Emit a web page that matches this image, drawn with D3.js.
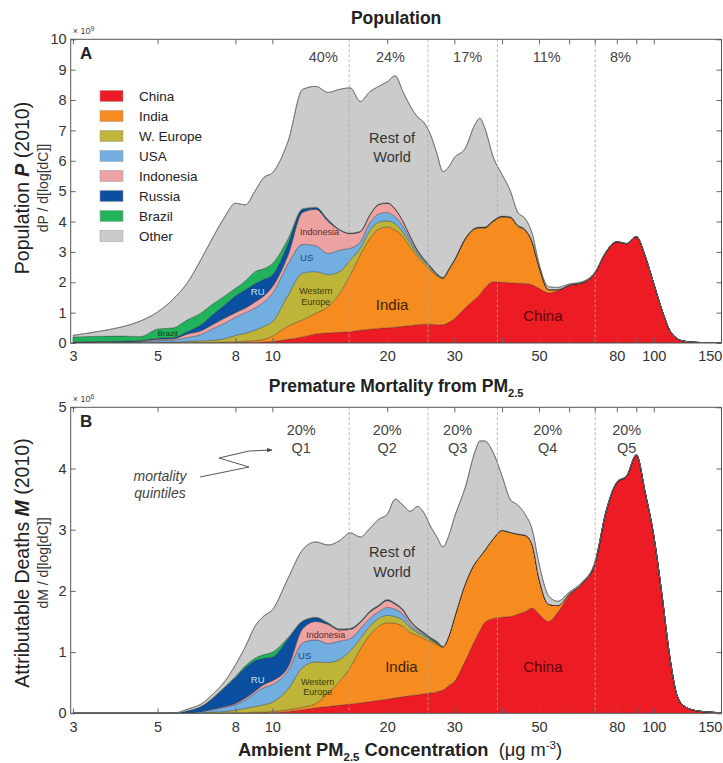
<!DOCTYPE html>
<html>
<head>
<meta charset="utf-8">
<script src="https://cdn.jsdelivr.net/npm/d3@7"></script>
<style>
  body { margin: 0; background: #fff; }
  svg { font-family: "Liberation Sans", Arial, Helvetica, sans-serif; }
</style>
</head>
<body>
<svg id="chart"></svg>
<script>
// PM2.5 exposure: population and attributable deaths by concentration

const conc = [3, 3.5, 4, 4.5, 5, 5.5, 6, 6.5, 7, 7.5, 8, 8.5, 9, 9.5, 10,
  11, 12, 13, 14, 15, 16, 17, 18, 19, 20, 21, 22, 23, 24, 25, 26, 27, 28, 29, 30,
  32, 34, 35, 36, 38, 40, 42, 44, 46, 48, 50,
  53, 56, 60, 65, 70, 75, 80, 85, 90, 95, 100, 105, 110, 115, 120, 130, 150];

// population, 10^9 per d(log C)
const popChina = [0,0,0,0,0,0,0,0, 0.01,0.01,0.01,0.02,0.02,0.03,0.05,
  0.12,0.2,0.3,0.33,0.35,0.37,0.42,0.45,0.48,0.5,0.52,0.55,0.57,0.6,0.62,0.62,0.6,0.6,0.68,0.8,
  1.15,1.45,1.6,1.8,2.02,2.0,1.98,1.97,1.96,1.92,1.8,
  1.65,1.72,1.88,1.97,2.28,3.0,3.33,3.27,3.5,2.85,1.95,1.1,0.43,0.15,0.06,0.02,0];
const popIndia = [0,0,0,0,0.01,0.01,0.01,0.01,0.01,0.02,0.03,0.04,0.06,0.09,0.18,
  0.44,0.56,0.68,0.87,1.28,1.87,2.48,2.99,3.27,3.32,3.2,2.95,2.58,2.25,1.98,1.78,1.6,1.52,1.72,1.9,
  2.25,2.3,2.18,1.98,1.98,2.14,2.14,1.87,1.74,1.38,0.7,
  0.1,0.03,0.02,0.01,0.01,0,0,0,0,0,0,0,0,0,0,0,0];
const popWEurope = [0.01,0.01,0.01,0.01,0.01,0.02,0.04,0.06,0.07,0.11,0.21,0.26,0.34,0.43,0.47,
  1.02,1.54,1.37,1.05,0.72,0.49,0.22,0.26,0.23,0.2,0.2,0.15,0.13,0.08,0.07,0.05,0.03,0.02,0.02,0.02,
  0.02,0.02,0.02,0.02,0.02,0.02,0.02,0.02,0.02,0.02,0.02,
  0.01,0.01,0.01,0.01,0.01,0,0,0,0,0,0,0,0,0,0,0,0];
const popUSA = [0.01,0.01,0.02,0.03,0.06,0.07,0.13,0.21,0.39,0.51,0.6,0.68,0.73,0.8,0.93,
  1.04,0.95,0.85,0.7,0.71,0.39,0.21,0.25,0.27,0.28,0.23,0.2,0.12,0.07,0.05,0.03,0.02,0.01,0.01,0.01,
  0.01,0.01,0.01,0.01,0.01,0.01,0.01,0.01,0.01,0.01,0.01,
  0,0,0,0,0,0,0,0,0,0,0,0,0,0,0,0,0];
const popIndonesia = [0,0.01,0.01,0.02,0.04,0.04,0.12,0.12,0.14,0.17,0.15,0.15,0.2,0.2,0.22,
  0.28,1.05,1.2,1.05,0.66,0.48,0.33,0.25,0.3,0.3,0.25,0.15,0.1,0.05,0.03,0.02,0.02,0.01,0.01,0.01,
  0.01,0.01,0.01,0.01,0.01,0.01,0.01,0.01,0.01,0.01,0.01,
  0,0,0,0,0,0,0,0,0,0,0,0,0,0,0,0,0];
const popRussia = [0.02,0.02,0.02,0.02,0.04,0.04,0.08,0.2,0.33,0.43,0.55,0.6,0.6,0.55,0.39,
  0.38,0.1,0.05,0.05,0.01,0.01,0.01,0.01,0.01,0.01,0.01,0.01,0.01,0.01,0.01,0.01,0.01,0,0,0,
  0,0,0,0,0,0,0,0,0,0,0,
  0,0,0,0,0,0,0,0,0,0,0,0,0,0,0,0,0];
const popBrazil = [0.16,0.17,0.17,0.13,0.3,0.32,0.39,0.39,0.35,0.3,0.25,0.3,0.4,0.35,0.38,
  0.16,0.02,0.02,0.02,0.01,0.01,0.01,0.01,0.01,0.01,0.01,0.01,0.01,0.01,0.01,0.01,0.01,0,0,0,
  0,0,0,0,0,0,0,0,0,0,0,
  0,0,0,0,0,0,0,0,0,0,0,0,0,0,0,0,0];
const popOther = [0.05,0.16,0.29,0.51,0.56,0.95,1.23,1.76,2.2,2.6,2.8,2.5,2.65,3.0,2.98,
  3.21,3.93,3.98,4.18,4.61,4.78,4.27,4.05,3.88,3.98,4.38,4.25,4.28,4.38,4.48,4.33,3.95,3.48,3.36,3.36,
  2.96,3.41,3.58,3.28,2.06,1.37,0.87,0.42,0.36,0.26,0.08,
  0.09,0.07,0.03,0.03,0.02,0.01,0.01,0.01,0.01,0.01,0,0,0,0,0,0,0];

// attributable deaths, 10^6 per d(log C)
const mortChina = [0,0,0,0,0,0,0,0,0,0,0,0,0,0.01,0.01,
  0.03,0.06,0.09,0.11,0.13,0.15,0.17,0.19,0.21,0.23,0.25,0.27,0.29,0.3,0.32,0.33,0.35,0.38,0.45,0.52,
  0.85,1.2,1.35,1.48,1.55,1.57,1.58,1.62,1.66,1.72,1.62,
  1.5,1.65,1.92,2.12,2.42,3.3,3.77,3.88,4.22,3.6,2.9,1.95,0.95,0.3,0.12,0.04,0.01];
const mortIndia = [0,0,0,0,0,0,0,0,0,0.01,0.01,0.01,0.02,0.01,0.02,
  0.03,0.04,0.07,0.22,0.39,0.6,0.88,1.09,1.21,1.25,1.22,1.15,1.03,0.97,0.9,0.84,0.77,0.7,0.8,1.03,
  1.25,1.25,1.2,1.17,1.3,1.41,1.37,1.3,1.24,1.03,0.58,
  0.28,0.11,0.03,0.01,0.02,0,0,0,0,0,0,0,0,0,0,0,0];
const mortWEurope = [0,0,0,0,0,0,0,0.01,0.02,0.02,0.04,0.07,0.09,0.12,0.15,
  0.34,0.65,0.68,0.5,0.36,0.27,0.17,0.14,0.13,0.12,0.11,0.1,0.08,0.05,0.04,0.03,0.02,0.01,0.01,0.01,
  0.01,0.01,0.01,0.01,0.01,0.01,0.01,0.01,0.01,0.01,0.01,
  0,0,0,0,0,0,0,0,0,0,0,0,0,0,0,0,0];
const mortUSA = [0,0,0,0,0,0,0.01,0.02,0.04,0.07,0.09,0.14,0.22,0.28,0.29,
  0.3,0.4,0.36,0.31,0.3,0.2,0.16,0.13,0.11,0.13,0.12,0.1,0.05,0.03,0.02,0.01,0.01,0,0,0,
  0,0,0,0,0,0,0,0,0,0,0,
  0,0,0,0,0,0,0,0,0,0,0,0,0,0,0,0,0];
const mortIndonesia = [0,0,0,0,0,0,0,0,0.01,0.01,0.02,0.03,0.03,0.05,0.06,
  0.06,0.23,0.3,0.31,0.18,0.15,0.1,0.1,0.09,0.11,0.08,0.06,0.05,0.03,0.02,0.01,0.01,0,0,0,
  0,0,0,0,0,0,0,0,0,0,0,
  0,0,0,0,0,0,0,0,0,0,0,0,0,0,0,0,0];
const mortRussia = [0,0,0,0,0,0,0.03,0.08,0.18,0.31,0.42,0.5,0.5,0.43,0.39,
  0.46,0.12,0.06,0.02,0.01,0.01,0.01,0.01,0.01,0.01,0.01,0.01,0.01,0.01,0.01,0.01,0.01,0,0,0,
  0,0,0,0,0,0,0,0,0,0,0,
  0,0,0,0,0,0,0,0,0,0,0,0,0,0,0,0,0];
const mortBrazil = [0,0,0,0,0,0,0,0,0.01,0.01,0.02,0.03,0.04,0.06,0.08,
  0.02,0.01,0.01,0.01,0.01,0.01,0.01,0.01,0.01,0.01,0.01,0.01,0.01,0.01,0.01,0.01,0.01,0,0,0,
  0,0,0,0,0,0,0,0,0,0,0,
  0,0,0,0,0,0,0,0,0,0,0,0,0,0,0,0,0];
const mortOther = [0,0,0,0,0,0,0.03,0.04,0.06,0.09,0.19,0.31,0.52,0.63,0.69,
  0.97,1.16,1.23,1.27,1.44,1.56,1.38,1.35,1.4,1.39,1.7,1.7,1.78,1.98,1.95,1.81,1.7,1.63,1.64,1.64,
  1.57,1.82,1.89,1.79,1.39,0.89,0.54,0.47,0.34,0.24,0.24,
  0.14,0.07,0.03,0.02,0.02,0.01,0.01,0.01,0.01,0,0,0,0,0,0,0,0];

const keys = ["China", "India", "W. Europe", "USA", "Indonesia", "Russia", "Brazil", "Other"];
const colors = ["#ed1c24", "#f68b1f", "#bfb43a", "#72aee0", "#eea3a3", "#0b4fa0", "#21b35b", "#cbcbcb"];

const quintileBounds = [15.9, 25.6, 38.9, 70.2];
const popShares = ["40%", "24%", "17%", "11%", "8%"];
const popShareAt = [13.6, 20.4, 32.5, 52.4, 81.8];
const mortShares = ["20%", "20%", "20%", "20%", "20%"];
const mortQuintiles = ["Q1", "Q2", "Q3", "Q4", "Q5"];
const mortShareAt = [11.9, 20.0, 30.6, 52.7, 84.9];

const xTickValues = [3, 5, 8, 10, 20, 30, 40, 50, 60, 70, 80, 90, 100, 150];
const xTickLabels = [3, 5, 8, 10, 20, 30, 50, 80, 100, 150];

function makeRows(series) {
  return conc.map((c, i) => {
    const r = { conc: c };
    keys.forEach((k, j) => r[k] = series[j][i]);
    return r;
  });
}
const popRows = makeRows([popChina, popIndia, popWEurope, popUSA, popIndonesia, popRussia, popBrazil, popOther]);
const mortRows = makeRows([mortChina, mortIndia, mortWEurope, mortUSA, mortIndonesia, mortRussia, mortBrazil, mortOther]);

const width = 723, height = 763;
const left = 70.7, right = 721.5;

const svg = d3.select("#chart")
  .attr("width", width)
  .attr("height", height)
  .attr("viewBox", [0, 0, width, height]);

svg.append("rect").attr("width", width).attr("height", height).attr("fill", "#fff");

const x = d3.scaleLog().domain([2.96, 150.5]).range([left, right]);

function drawPanel(p) {
  const y = d3.scaleLinear().domain([0, p.yMax]).range([p.bottom, p.top]);
  const g = svg.append("g");

  const clipId = "clip" + p.letter;
  g.append("clipPath").attr("id", clipId)
    .append("rect").attr("x", left).attr("y", p.top)
    .attr("width", right - left).attr("height", p.bottom - p.top);

  const series = d3.stack().keys(keys)(p.rows);
  const area = d3.area()
    .x(d => x(d.data.conc))
    .y0(d => y(d[0]))
    .y1(d => y(d[1]))
    .curve(d3.curveMonotoneX);

  const plot = g.append("g").attr("clip-path", `url(#${clipId})`);
  plot.selectAll("path.layer")
    .data(series)
    .join("path")
      .attr("class", "layer")
      .attr("fill", (d, i) => colors[i])
      .attr("stroke", "rgba(40,40,40,0.55)")
      .attr("stroke-width", 0.6)
      .attr("d", area);

  // outline of the total
  const topLine = d3.line()
    .x(d => x(d.data.conc))
    .y(d => y(d[1]))
    .curve(d3.curveMonotoneX);
  plot.append("path")
    .attr("fill", "none")
    .attr("stroke", "#6f6f6f")
    .attr("stroke-width", 0.9)
    .attr("d", topLine(series[series.length - 1]));

  // quintile boundaries
  plot.selectAll("line.q")
    .data(quintileBounds)
    .join("line")
      .attr("x1", d => x(d)).attr("x2", d => x(d))
      .attr("y1", p.top).attr("y2", p.bottom)
      .attr("stroke", "#a8a8a8")
      .attr("stroke-width", 0.8)
      .attr("stroke-dasharray", "3,2");

  // axes
  const tickFmt = d => xTickLabels.includes(d) ? d : "";
  g.append("g")
    .attr("transform", `translate(0,${p.bottom})`)
    .call(d3.axisBottom(x).tickValues(xTickValues).tickFormat(tickFmt).tickSizeInner(-5).tickSizeOuter(0).tickPadding(8))
    .call(a => a.select(".domain").remove())
    .call(a => a.selectAll("text").attr("font-size", 14.5).attr("fill", "#333"))
    .call(a => a.selectAll(".tick").filter(d => d === 150).select("text").attr("text-anchor", "end").attr("x", 1))
    .call(a => a.selectAll("line").attr("stroke", "#666"));
  g.append("g")
    .attr("transform", `translate(0,${p.top})`)
    .call(d3.axisTop(x).tickValues(xTickValues).tickFormat("").tickSizeInner(-5).tickSizeOuter(0))
    .call(a => a.select(".domain").remove())
    .call(a => a.selectAll("line").attr("stroke", "#666"));
  g.append("g")
    .attr("transform", `translate(${left},0)`)
    .call(d3.axisLeft(y).ticks(p.yMax).tickFormat(d3.format("d")).tickSizeInner(-5).tickSizeOuter(0).tickPadding(4))
    .call(a => a.select(".domain").remove())
    .call(a => a.selectAll("text").attr("font-size", 14.5).attr("fill", "#333"))
    .call(a => a.selectAll("line").attr("stroke", "#666"));
  g.append("g")
    .attr("transform", `translate(${right},0)`)
    .call(d3.axisRight(y).ticks(p.yMax).tickFormat("").tickSizeInner(-5).tickSizeOuter(0))
    .call(a => a.select(".domain").remove())
    .call(a => a.selectAll("line").attr("stroke", "#666"));

  g.append("rect")
    .attr("x", left).attr("y", p.top)
    .attr("width", right - left).attr("height", p.bottom - p.top)
    .attr("fill", "none").attr("stroke", "#555").attr("stroke-width", 1);

  // exponent
  const ex = g.append("text").attr("x", left + 2).attr("y", p.top - 5)
    .attr("font-size", 9).attr("fill", "#444").text("× 10");
  ex.append("tspan").attr("dy", -3).attr("font-size", 7).text(p.exponent);

  // panel letter
  g.append("text").attr("x", 80).attr("y", p.top + 20)
    .attr("font-size", 17).attr("font-weight", "bold").attr("fill", "#222").text(p.letter);

  // title
  const t = g.append("text").attr("x", (left + right) / 2).attr("y", p.top - 15)
    .attr("text-anchor", "middle").attr("font-size", 17.5).attr("font-weight", "bold").attr("fill", "#222")
    .text(p.title);
  if (p.titleSub) {
    t.append("tspan").attr("dy", 5).attr("font-size", 11).text(p.titleSub);
  }

  // y labels
  const yl = g.append("text")
    .attr("transform", `translate(29,${p.labelY}) rotate(-90)`)
    .attr("text-anchor", "middle").attr("font-size", 19.5).attr("fill", "#222");
  yl.append("tspan").text(p.yLabel[0]);
  yl.append("tspan").attr("font-weight", "bold").attr("font-style", "italic").text(p.yLabel[1]);
  yl.append("tspan").text(p.yLabel[2]);
  g.append("text")
    .attr("transform", `translate(48,${p.labelY}) rotate(-90)`)
    .attr("text-anchor", "middle").attr("font-size", 14).attr("fill", "#333")
    .text(p.ySub);

  // share labels
  g.selectAll("text.share")
    .data(p.shares)
    .join("text")
      .attr("class", "share")
      .attr("x", (d, i) => x(p.shareAt[i]))
      .attr("y", p.top + p.shareDy)
      .attr("text-anchor", "middle").attr("font-size", 14.5).attr("fill", "#444")
      .text(d => d);
  if (p.quintiles) {
    g.selectAll("text.qn")
      .data(p.quintiles)
      .join("text")
        .attr("class", "qn")
        .attr("x", (d, i) => x(p.shareAt[i]))
        .attr("y", p.top + p.shareDy + 18)
        .attr("text-anchor", "middle").attr("font-size", 14.5).attr("fill", "#444")
        .text(d => d);
  }

  // labels inside the areas
  g.selectAll("text.inl")
    .data(p.labels)
    .join("text")
      .attr("class", "inl")
      .attr("x", d => x(d.c))
      .attr("y", d => y(d.v))
      .attr("text-anchor", "middle")
      .attr("font-size", d => d.size)
      .attr("fill", d => d.color)
      .text(d => d.text);

  return { g, y };
}

const panelA = drawPanel({
  letter: "A", rows: popRows, yMax: 10, top: 39.3, bottom: 343,
  exponent: "9", title: "Population",
  yLabel: ["Population ", "P", " (2010)"], ySub: "dP / d[log[dC]]", labelY: 188,
  shares: popShares, shareAt: popShareAt, shareDy: 23,
  labels: [
    { text: "Rest of", c: 20.6, v: 6.6, size: 14.5, color: "#333" },
    { text: "World", c: 20.6, v: 5.95, size: 14.5, color: "#333" },
    { text: "India", c: 20.6, v: 1.08, size: 15, color: "#3d2300" },
    { text: "China", c: 51.2, v: 0.72, size: 15, color: "#5c0008" },
    { text: "Indonesia", c: 13.3, v: 3.55, size: 9, color: "#5a2a2a" },
    { text: "US", c: 12.3, v: 2.7, size: 9.5, color: "#1d4a80" },
    { text: "Western", c: 13.0, v: 1.62, size: 9, color: "#3d3a05" },
    { text: "Europe", c: 13.0, v: 1.26, size: 9, color: "#3d3a05" },
    { text: "RU", c: 9.15, v: 1.58, size: 9.5, color: "#cfe0f8" },
    { text: "Brazil", c: 5.31, v: 0.23, size: 8, color: "#0b3a1a" }
  ]
});

const panelB = drawPanel({
  letter: "B", rows: mortRows, yMax: 5, top: 407.3, bottom: 713.3,
  exponent: "6", title: "Premature Mortality from PM", titleSub: "2.5",
  yLabel: ["Attributable Deaths ", "M", " (2010)"], ySub: "dM / d[log[dC]]", labelY: 563,
  shares: mortShares, shareAt: mortShareAt, shareDy: 28, quintiles: mortQuintiles,
  labels: [
    { text: "Rest of", c: 20.6, v: 2.55, size: 14.5, color: "#333" },
    { text: "World", c: 20.6, v: 2.22, size: 14.5, color: "#333" },
    { text: "India", c: 21.8, v: 0.67, size: 15, color: "#3d2300" },
    { text: "China", c: 51.2, v: 0.67, size: 15, color: "#5c0008" },
    { text: "Indonesia", c: 13.8, v: 1.23, size: 9, color: "#5a2a2a" },
    { text: "US", c: 12.15, v: 0.89, size: 9.5, color: "#1d4a80" },
    { text: "Western", c: 13.15, v: 0.46, size: 9, color: "#3d3a05" },
    { text: "Europe", c: 13.15, v: 0.3, size: 9, color: "#3d3a05" },
    { text: "RU", c: 9.15, v: 0.5, size: 9.5, color: "#cfe0f8" }
  ]
});

// legend (panel A)
const legend = svg.append("g");
keys.forEach((k, i) => {
  const row = legend.append("g").attr("transform", `translate(100,${96 + i * 20})`);
  row.append("rect").attr("x", 0).attr("y", -5.5).attr("width", 23).attr("height", 11)
    .attr("fill", colors[i]).attr("stroke", "#999").attr("stroke-width", 0.5);
  row.append("text").attr("x", 39).attr("y", 5).attr("font-size", 13.5).attr("fill", "#222").text(k);
});

// mortality quintiles note (panel B)
const note = svg.append("g");
note.append("text").attr("x", 160).attr("y", 481).attr("text-anchor", "middle")
  .attr("font-size", 14).attr("font-style", "italic").attr("fill", "#444").text("mortality");
note.append("text").attr("x", 160).attr("y", 498).attr("text-anchor", "middle")
  .attr("font-size", 14).attr("font-style", "italic").attr("fill", "#444").text("quintiles");
svg.append("defs").append("marker")
  .attr("id", "arrow").attr("viewBox", "0 0 10 10").attr("refX", 9).attr("refY", 5)
  .attr("markerWidth", 6).attr("markerHeight", 6).attr("orient", "auto")
  .append("path").attr("d", "M0,1 L10,5 L0,9 Z").attr("fill", "#444");
note.append("path")
  .attr("d", "M200,477 L249,467 L219,458 L249,451 L272,450")
  .attr("fill", "none").attr("stroke", "#444").attr("stroke-width", 0.9)
  .attr("marker-end", "url(#arrow)");

// x axis title
const xt = svg.append("text").attr("x", 400).attr("y", 756).attr("text-anchor", "middle")
  .attr("font-size", 18.3).attr("fill", "#222");
xt.append("tspan").attr("font-weight", "bold").text("Ambient PM");
xt.append("tspan").attr("font-weight", "bold").attr("font-size", 11.5).attr("dy", 5).text("2.5");
xt.append("tspan").attr("font-weight", "bold").attr("dy", -5).text(" Concentration");
xt.append("tspan").text("\u00a0 (μg m");
xt.append("tspan").attr("font-size", 11.5).attr("dy", -7).text("-3");
xt.append("tspan").attr("dy", 7).text(")");
</script>
</body>
</html>
